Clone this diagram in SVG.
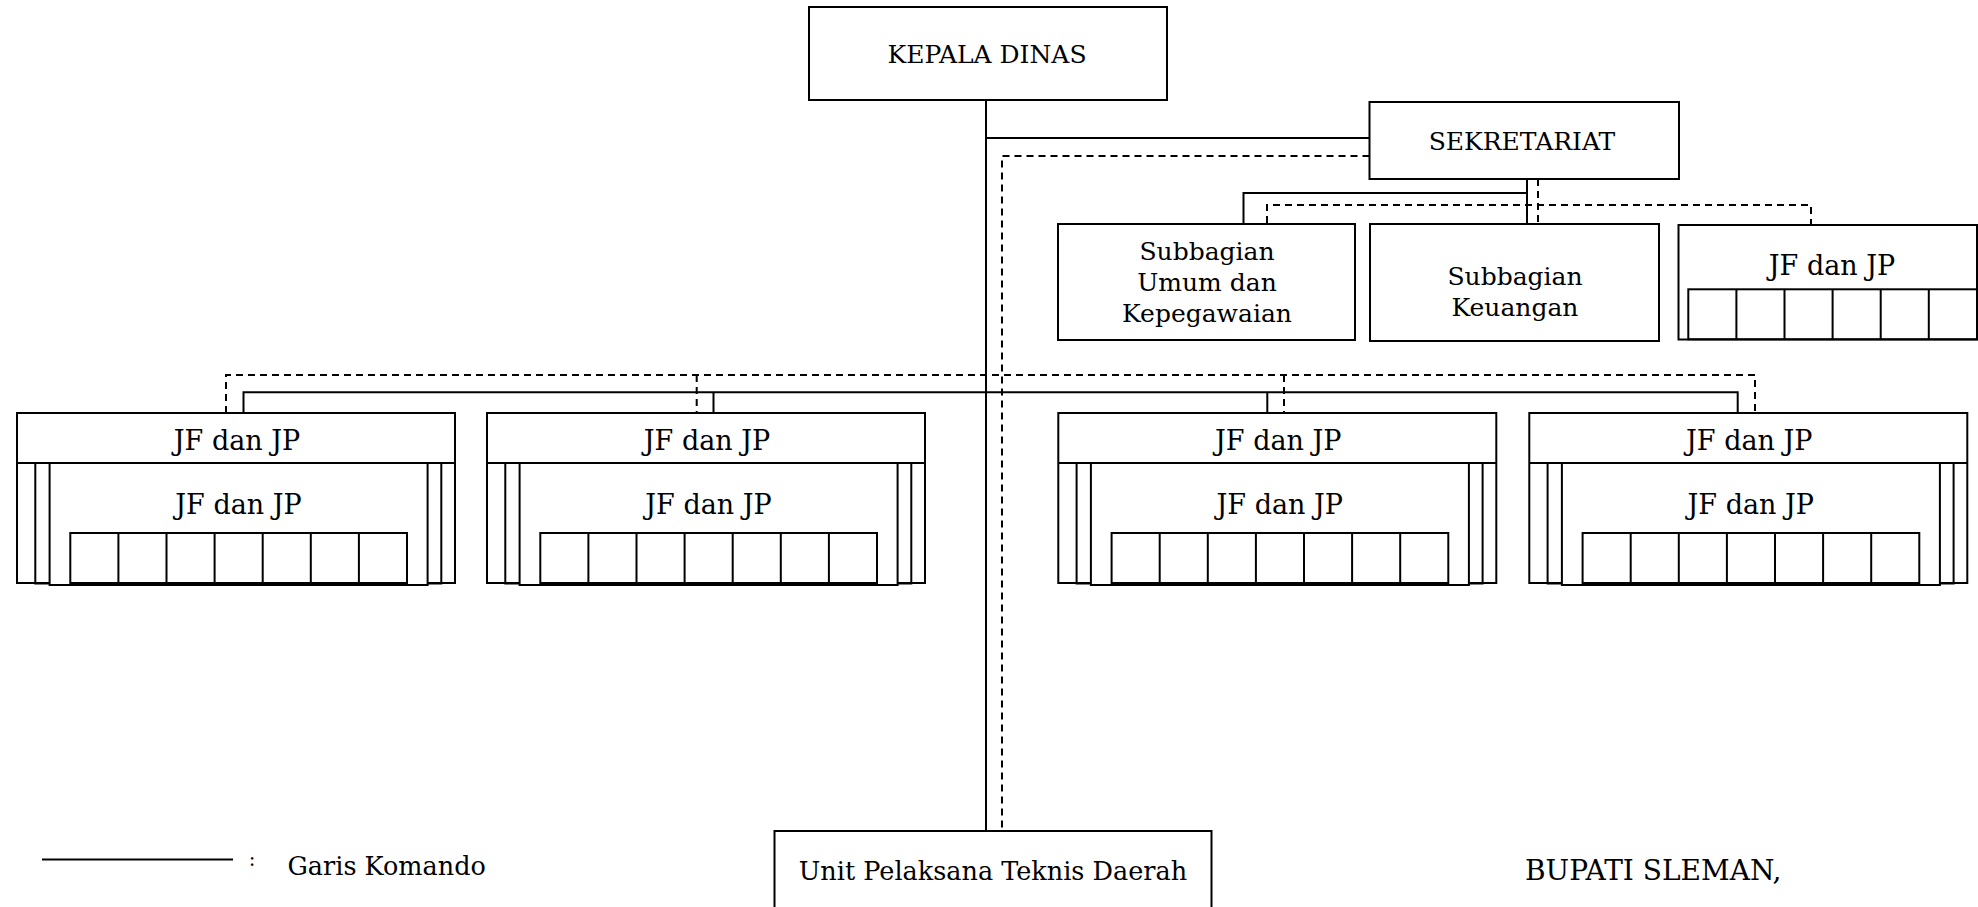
<svg xmlns="http://www.w3.org/2000/svg" width="1978" height="907" viewBox="0 0 1978 907">
<style>
.box{fill:#fff;stroke:#000;stroke-width:2}
.fr{fill:none;stroke:#000;stroke-width:2}
.ln{fill:none;stroke:#000;stroke-width:2}
.dl{fill:none;stroke:#000;stroke-width:2;stroke-dasharray:7 5}
text{font-family:"DejaVu Serif","Liberation Serif",serif;font-size:25px;fill:#000;text-anchor:middle}
.jf{font-size:27px}
.st{text-anchor:start}
</style>
<rect width="1978" height="907" fill="#fff"/>
<g id="connectors">
<path class="ln" d="M986 100V831M986 138H1369.5M1527 179V224M1527 193H1243.5V224M243.5 413V392.3H1737.7V413M713.5 392.3V413M1267.3 392.3V413"/>
<path class="dl" d="M1369.5 156H1002V831M1538 179V224M1267 223V205H1811V225M226 413V375H1755V413M696.7 375V413M1284 375V413"/>
</g>
<g id="kepala-dinas"><rect class="box" x="809" y="7" width="358" height="93"/><text x="987" y="63">KEPALA DINAS</text></g>
<g id="sekretariat"><rect class="box" x="1369.5" y="102" width="309.5" height="77"/><text x="1522" y="150" style="font-size:25px">SEKRETARIAT</text></g>
<g id="subbagian-umum"><rect class="box" x="1058" y="224" width="297" height="116"/><text x="1207" y="260">Subbagian</text><text x="1207" y="291">Umum dan</text><text x="1207" y="322">Kepegawaian</text></g>
<g id="subbagian-keuangan"><rect class="box" x="1370" y="224" width="289" height="117"/><text x="1515" y="285">Subbagian</text><text x="1515" y="316">Keuangan</text></g>
<g id="jf-sekretariat"><rect class="box" x="1678.5" y="225" width="298.5" height="114.5"/><text class="jf" x="1832" y="275">JF dan JP</text><rect class="fr" x="1688.3" y="289.3" width="288.7" height="50"/><path class="ln" d="M1736.4 289.3V339.3M1784.5 289.3V339.3M1832.6 289.3V339.3M1880.7 289.3V339.3M1928.8 289.3V339.3"/></g>
<g id="jf-group-1" transform="translate(17 0)">
<rect class="box" x="0" y="413" width="438" height="170"/><path class="ln" d="M0 463H438"/><rect class="fr" x="18.3" y="463" width="406" height="120.5"/><rect class="box" x="32.6" y="463" width="378" height="122"/><rect class="fr" x="53.3" y="533" width="336.7" height="50"/><path class="ln" d="M101.4 533V583M149.5 533V583M197.6 533V583M245.7 533V583M293.8 533V583M341.9 533V583"/><text class="jf" x="220" y="450">JF dan JP</text><text class="jf" x="221.5" y="514">JF dan JP</text>
</g>
<g id="jf-group-2" transform="translate(487 0)">
<rect class="box" x="0" y="413" width="438" height="170"/><path class="ln" d="M0 463H438"/><rect class="fr" x="18.3" y="463" width="406" height="120.5"/><rect class="box" x="32.6" y="463" width="378" height="122"/><rect class="fr" x="53.3" y="533" width="336.7" height="50"/><path class="ln" d="M101.4 533V583M149.5 533V583M197.6 533V583M245.7 533V583M293.8 533V583M341.9 533V583"/><text class="jf" x="220" y="450">JF dan JP</text><text class="jf" x="221.5" y="514">JF dan JP</text>
</g>
<g id="jf-group-3" transform="translate(1058.3 0)">
<rect class="box" x="0" y="413" width="438" height="170"/><path class="ln" d="M0 463H438"/><rect class="fr" x="18.3" y="463" width="406" height="120.5"/><rect class="box" x="32.6" y="463" width="378" height="122"/><rect class="fr" x="53.3" y="533" width="336.7" height="50"/><path class="ln" d="M101.4 533V583M149.5 533V583M197.6 533V583M245.7 533V583M293.8 533V583M341.9 533V583"/><text class="jf" x="220" y="450">JF dan JP</text><text class="jf" x="221.5" y="514">JF dan JP</text>
</g>
<g id="jf-group-4" transform="translate(1529.3 0)">
<rect class="box" x="0" y="413" width="438" height="170"/><path class="ln" d="M0 463H438"/><rect class="fr" x="18.3" y="463" width="406" height="120.5"/><rect class="box" x="32.6" y="463" width="378" height="122"/><rect class="fr" x="53.3" y="533" width="336.7" height="50"/><path class="ln" d="M101.4 533V583M149.5 533V583M197.6 533V583M245.7 533V583M293.8 533V583M341.9 533V583"/><text class="jf" x="220" y="450">JF dan JP</text><text class="jf" x="221.5" y="514">JF dan JP</text>
</g>
<g id="upt"><rect class="box" x="774.5" y="831" width="437" height="90"/><text x="993" y="880" style="font-size:25.5px">Unit Pelaksana Teknis Daerah</text></g>
<g id="legend"><path class="ln" d="M42 859.5H233"/><text x="252" y="866" style="font-size:20px">:</text><text class="st" x="287.5" y="875" style="font-size:25.5px">Garis Komando</text></g>
<g id="signature"><text class="st" x="1525" y="880" style="font-size:28px">BUPATI SLEMAN,</text></g>
</svg>
